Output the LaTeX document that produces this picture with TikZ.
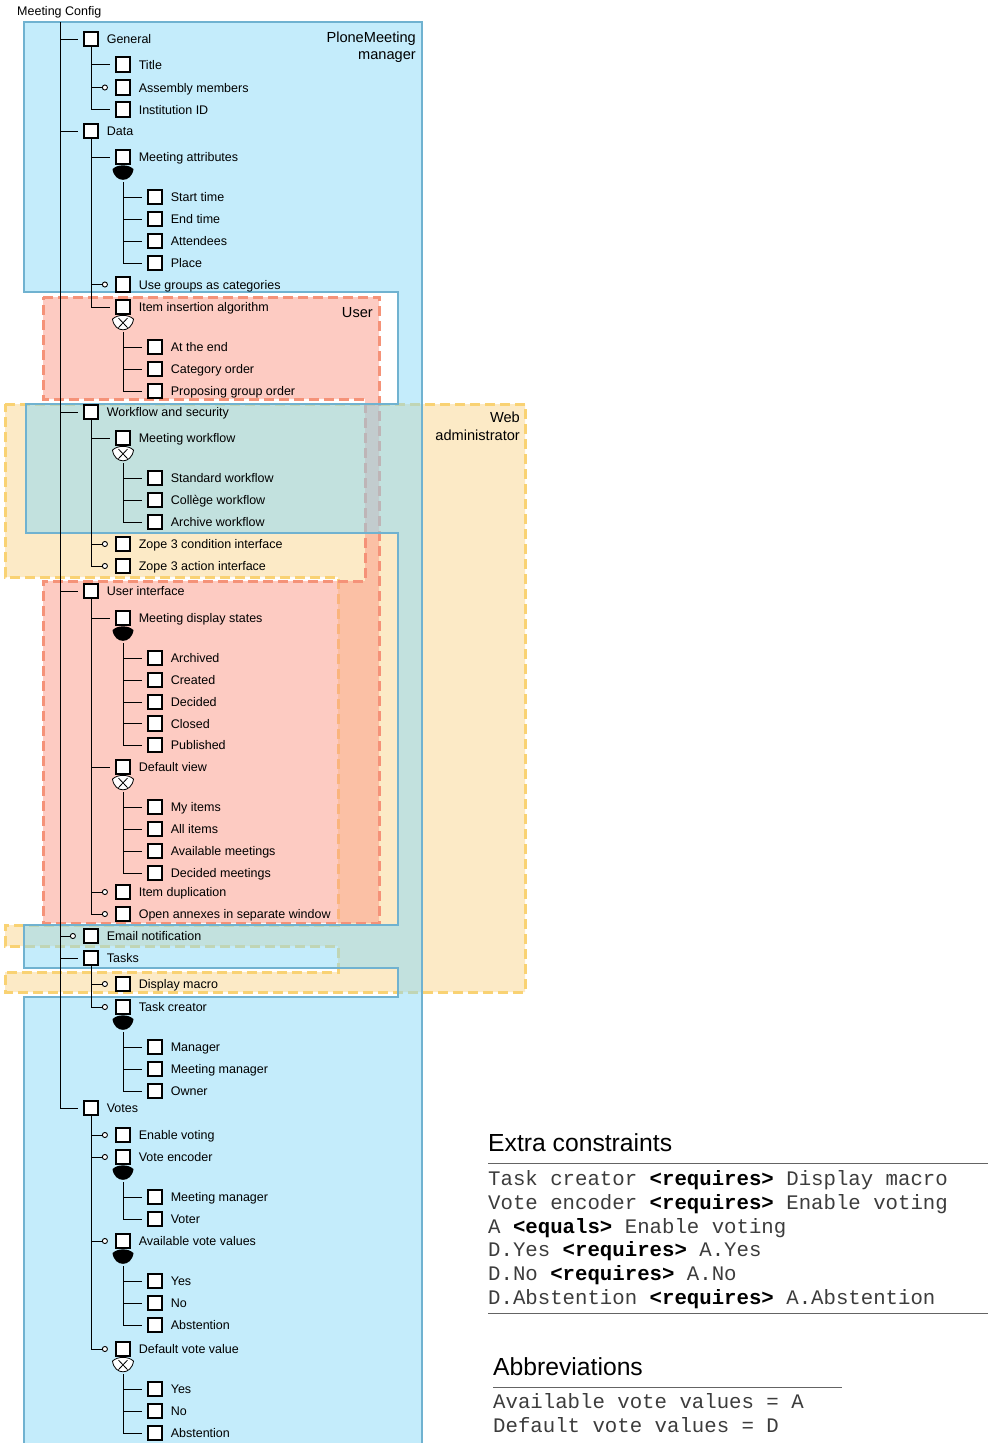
\documentclass[tikz,border=0pt]{standalone}
\usepackage{fontspec}
\setmainfont{Liberation Sans}
\setmonofont{Liberation Mono}
\usetikzlibrary{arrows.meta}
\pgfdeclarelayer{regions}
\pgfdeclarelayer{wires}
\pgfsetlayers{regions,wires,main}

\definecolor{mgrfill}{RGB}{137,217,247}
\definecolor{mgrline}{RGB}{112,178,208}
\definecolor{adminfill}{RGB}{249,213,141}
\definecolor{adminline}{RGB}{249,210,115}
\definecolor{userfill}{RGB}{251,151,133}
\definecolor{userline}{RGB}{245,146,120}
\definecolor{rulegray}{RGB}{100,100,100}
\definecolor{monotext}{RGB}{60,60,60}

\tikzset{
  fbox/.style={draw, fill=white, line width=1.7pt, minimum size=14.5pt, inner sep=0pt},
  lbl/.style={inner sep=0pt, font=\fontsize{12.5}{15}\selectfont},
  flbl/.style={lbl, anchor=base west},
  rolelbl/.style={inner sep=0pt, anchor=base east, font=\fontsize{14.6}{17}\selectfont},
  heading/.style={inner sep=0pt, anchor=base west, font=\fontsize{24.7}{30}\selectfont},
  mono/.style={inner sep=0pt, anchor=base west, text=monotext, font=\ttfamily\fontsize{20.7}{24}\selectfont},
  wire/.style={line width=0.9pt},
  optwire/.style={wire, -{Circle[length=6pt, width=6pt, fill=white, line width=0.9pt]}},
  rule/.style={rulegray, line width=1.3pt},
  roleborder/.style={line width=3pt, dash pattern=on 10pt off 5pt},
}

% a feature: box plus its name
\newcommand\ftr[4]{%
  \node[fbox] (#1) at (#2,#3) {};
  \node[flbl] (#1-t) at ([xshift=7.5pt,yshift=-4.5pt]#1.east) {#4};}
% mandatory and optional edges from a parent line to a child
\newcommand\manc[2]{\draw[wire] (#1 |- #2.west) -- ([xshift=-4.5pt]#2.west);}
\newcommand\optc[2]{\draw[optwire] (#1 |- #2.west) -- ([xshift=-7pt]#2.west);}
% or-group (filled) and alternative group (open, with a cross)
\newcommand\orgrp[1]{%
  \fill[shift={(#1.south)}] (-10.5,4) .. controls (-5.5,-1) and (5.5,-1) .. (10.5,4)
    .. controls (8.5,18.3) and (-8.5,18.3) .. cycle;}
\newcommand\xorgrp[1]{%
  \begin{scope}[shift={(#1.south)}]
    \draw[fill=white, line width=0.8pt] (-10.5,4) .. controls (-5.5,-1) and (5.5,-1) .. (10.5,4)
      .. controls (8.5,18.3) and (-8.5,18.3) .. cycle;
    \draw[line width=0.8pt] (-4.5,3) -- (4.5,12.5) (4.5,3) -- (-4.5,12.5);
  \end{scope}}

\begin{document}
\begin{tikzpicture}[x=1pt, y=-1pt]
\useasboundingbox (0,0) rectangle (988,1443);

% ---------- role regions ----------
\begin{pgfonlayer}{regions}
  % Web administrator
  \path[fill=adminfill, fill opacity=0.5, draw=adminline, roleborder]
    (5,404) -- (525,404) -- (525,992) -- (5,992) -- (5,972) -- (338,972) -- (338,946)
    -- (5,946) -- (5,925) -- (338,925) -- (338,577) -- (5,577) -- cycle;
  % User
  \path[fill=userfill, fill opacity=0.5, draw=userline, roleborder]
    (43,297) -- (379,297) -- (379,923) -- (43,923) -- (43,581) -- (365,581)
    -- (365,399) -- (43,399) -- cycle;
  % PloneMeeting manager
  \path[fill=mgrfill, fill opacity=0.5, draw=mgrline, line width=2.6pt]
    (24,22) -- (422,22) -- (422,1470) -- (24,1470) -- (24,997) -- (398,997) -- (398,968)
    -- (24,968) -- (24,925) -- (398,925) -- (398,533) -- (26,533) -- (26,404)
    -- (398,404) -- (398,292) -- (24,292) -- cycle;
\end{pgfonlayer}

\node[rolelbl] (pm1) at (416,42) {PloneMeeting};
\node[rolelbl] (pm2) at (416,59.5) {manager};
\node[rolelbl] (usr) at (373,317) {User};
\node[rolelbl] (web1) at (520,422) {Web};
\node[rolelbl] (web2) at (520,440) {administrator};

% ---------- features ----------
\node[lbl, anchor=base west] (root) at (17,15.5) {Meeting Config};
\coordinate (rt) at (60,22);

\ftr{general}{91}{39}{General}
\ftr{data}{91}{131}{Data}
\ftr{wfs}{91}{412}{Workflow and security}
\ftr{ui}{91}{591}{User interface}
\ftr{email}{91}{936}{Email notification}
\ftr{tasks}{91}{958}{Tasks}
\ftr{votes}{91}{1108}{Votes}

\ftr{title}{123}{64.5}{Title}
\ftr{assembly}{123}{87.5}{Assembly members}
\ftr{instid}{123}{109.5}{Institution ID}
\ftr{mattr}{123}{157}{Meeting attributes}
\ftr{usegrp}{123}{284.5}{Use groups as categories}
\ftr{iia}{123}{307}{Item insertion algorithm}
\ftr{mwf}{123}{438}{Meeting workflow}
\ftr{zcond}{123}{544}{Zope 3 condition interface}
\ftr{zact}{123}{566}{Zope 3 action interface}
\ftr{mds}{123}{618}{Meeting display states}
\ftr{dview}{123}{767}{Default view}
\ftr{idup}{123}{892}{Item duplication}
\ftr{annex}{123}{914}{Open annexes in separate window}
\ftr{dmacro}{123}{984}{Display macro}
\ftr{tcreator}{123}{1007}{Task creator}
\ftr{enable}{123}{1135}{Enable voting}
\ftr{encoder}{123}{1157}{Vote encoder}
\ftr{avail}{123}{1241}{Available vote values}
\ftr{defv}{123}{1349}{Default vote value}

\ftr{start}{155}{197}{Start time}
\ftr{end}{155}{219}{End time}
\ftr{attendees}{155}{241}{Attendees}
\ftr{place}{155}{263}{Place}
\ftr{atend}{155}{347}{At the end}
\ftr{catorder}{155}{369}{Category order}
\ftr{pgorder}{155}{391}{Proposing group order}
\ftr{stdwf}{155}{478}{Standard workflow}
\ftr{college}{155}{500}{Collège workflow}
\ftr{archwf}{155}{522}{Archive workflow}
\ftr{archived}{155}{658}{Archived}
\ftr{created}{155}{680}{Created}
\ftr{decided}{155}{702}{Decided}
\ftr{closed}{155}{723.5}{Closed}
\ftr{published}{155}{745}{Published}
\ftr{myitems}{155}{807}{My items}
\ftr{allitems}{155}{829}{All items}
\ftr{availm}{155}{851}{Available meetings}
\ftr{decm}{155}{873}{Decided meetings}
\ftr{manager}{155}{1047}{Manager}
\ftr{tmm}{155}{1069}{Meeting manager}
\ftr{owner}{155}{1091}{Owner}
\ftr{vmm}{155}{1197}{Meeting manager}
\ftr{voter}{155}{1219}{Voter}
\ftr{ayes}{155}{1281}{Yes}
\ftr{ano}{155}{1303}{No}
\ftr{aabst}{155}{1325}{Abstention}
\ftr{dyes}{155}{1389}{Yes}
\ftr{dno}{155}{1411}{No}
\ftr{dabst}{155}{1433}{Abstention}

% ---------- tree edges ----------
\begin{pgfonlayer}{wires}
  \draw[wire] (rt) -- (rt |- votes.west);
  \manc{rt}{general} \manc{rt}{data} \manc{rt}{wfs} \manc{rt}{ui}
  \optc{rt}{email} \manc{rt}{tasks} \manc{rt}{votes}

  \draw[wire] (general.south) -- (general |- instid.west);
  \manc{general}{title} \optc{general}{assembly} \manc{general}{instid}

  \draw[wire] (data.south) -- (data |- iia.west);
  \manc{data}{mattr} \optc{data}{usegrp} \manc{data}{iia}
  \orgrp{mattr}
  \draw[wire] ([yshift=-17pt]mattr.south) -- (mattr |- place.west);
  \manc{mattr}{start} \manc{mattr}{end} \manc{mattr}{attendees} \manc{mattr}{place}
  \xorgrp{iia}
  \draw[wire] ([yshift=-17pt]iia.south) -- (iia |- pgorder.west);
  \manc{iia}{atend} \manc{iia}{catorder} \manc{iia}{pgorder}

  \draw[wire] (wfs.south) -- (wfs |- zact.west);
  \manc{wfs}{mwf} \optc{wfs}{zcond} \optc{wfs}{zact}
  \xorgrp{mwf}
  \draw[wire] ([yshift=-17pt]mwf.south) -- (mwf |- archwf.west);
  \manc{mwf}{stdwf} \manc{mwf}{college} \manc{mwf}{archwf}

  \draw[wire] (ui.south) -- (ui |- annex.west);
  \manc{ui}{mds} \manc{ui}{dview} \optc{ui}{idup} \optc{ui}{annex}
  \orgrp{mds}
  \draw[wire] ([yshift=-17pt]mds.south) -- (mds |- published.west);
  \manc{mds}{archived} \manc{mds}{created} \manc{mds}{decided}
  \manc{mds}{closed} \manc{mds}{published}
  \xorgrp{dview}
  \draw[wire] ([yshift=-17pt]dview.south) -- (dview |- decm.west);
  \manc{dview}{myitems} \manc{dview}{allitems} \manc{dview}{availm} \manc{dview}{decm}

  \draw[wire] (tasks.south) -- (tasks |- tcreator.west);
  \optc{tasks}{dmacro} \optc{tasks}{tcreator}
  \orgrp{tcreator}
  \draw[wire] ([yshift=-17pt]tcreator.south) -- (tcreator |- owner.west);
  \manc{tcreator}{manager} \manc{tcreator}{tmm} \manc{tcreator}{owner}

  \draw[wire] (votes.south) -- (votes |- defv.west);
  \optc{votes}{enable} \optc{votes}{encoder} \optc{votes}{avail} \optc{votes}{defv}
  \orgrp{encoder}
  \draw[wire] ([yshift=-17pt]encoder.south) -- (encoder |- voter.west);
  \manc{encoder}{vmm} \manc{encoder}{voter}
  \orgrp{avail}
  \draw[wire] ([yshift=-17pt]avail.south) -- (avail |- aabst.west);
  \manc{avail}{ayes} \manc{avail}{ano} \manc{avail}{aabst}
  \xorgrp{defv}
  \draw[wire] ([yshift=-17pt]defv.south) -- (defv |- dabst.west);
  \manc{defv}{dyes} \manc{defv}{dno} \manc{defv}{dabst}
\end{pgfonlayer}

% ---------- constraints and abbreviations ----------
\node[heading] (xch) at (488,1151.5) {Extra constraints};
\draw[rule] (488,1163.5) -- (988,1163.5);
\node[mono] (c1) at (488,1185) {Task creator \textcolor{black}{\textbf{<requires>}} Display macro};
\node[mono] (c2) at (488,1209) {Vote encoder \textcolor{black}{\textbf{<requires>}} Enable voting};
\node[mono] (c3) at (488,1233) {A \textcolor{black}{\textbf{<equals>}} Enable voting};
\node[mono] (c4) at (488,1256.5) {D.Yes \textcolor{black}{\textbf{<requires>}} A.Yes};
\node[mono] (c5) at (488,1280) {D.No \textcolor{black}{\textbf{<requires>}} A.No};
\node[mono] (c6) at (488,1304) {D.Abstention \textcolor{black}{\textbf{<requires>}} A.Abstention};
\draw[rule] (488,1313.5) -- (988,1313.5);

\node[heading] (abh) at (493,1375.5) {Abbreviations};
\draw[rule] (493,1387.5) -- (842,1387.5);
\node[mono] (a1) at (493,1408.5) {Available vote values = A};
\node[mono] (a2) at (493,1432.5) {Default vote values = D};
\end{tikzpicture}
\end{document}
